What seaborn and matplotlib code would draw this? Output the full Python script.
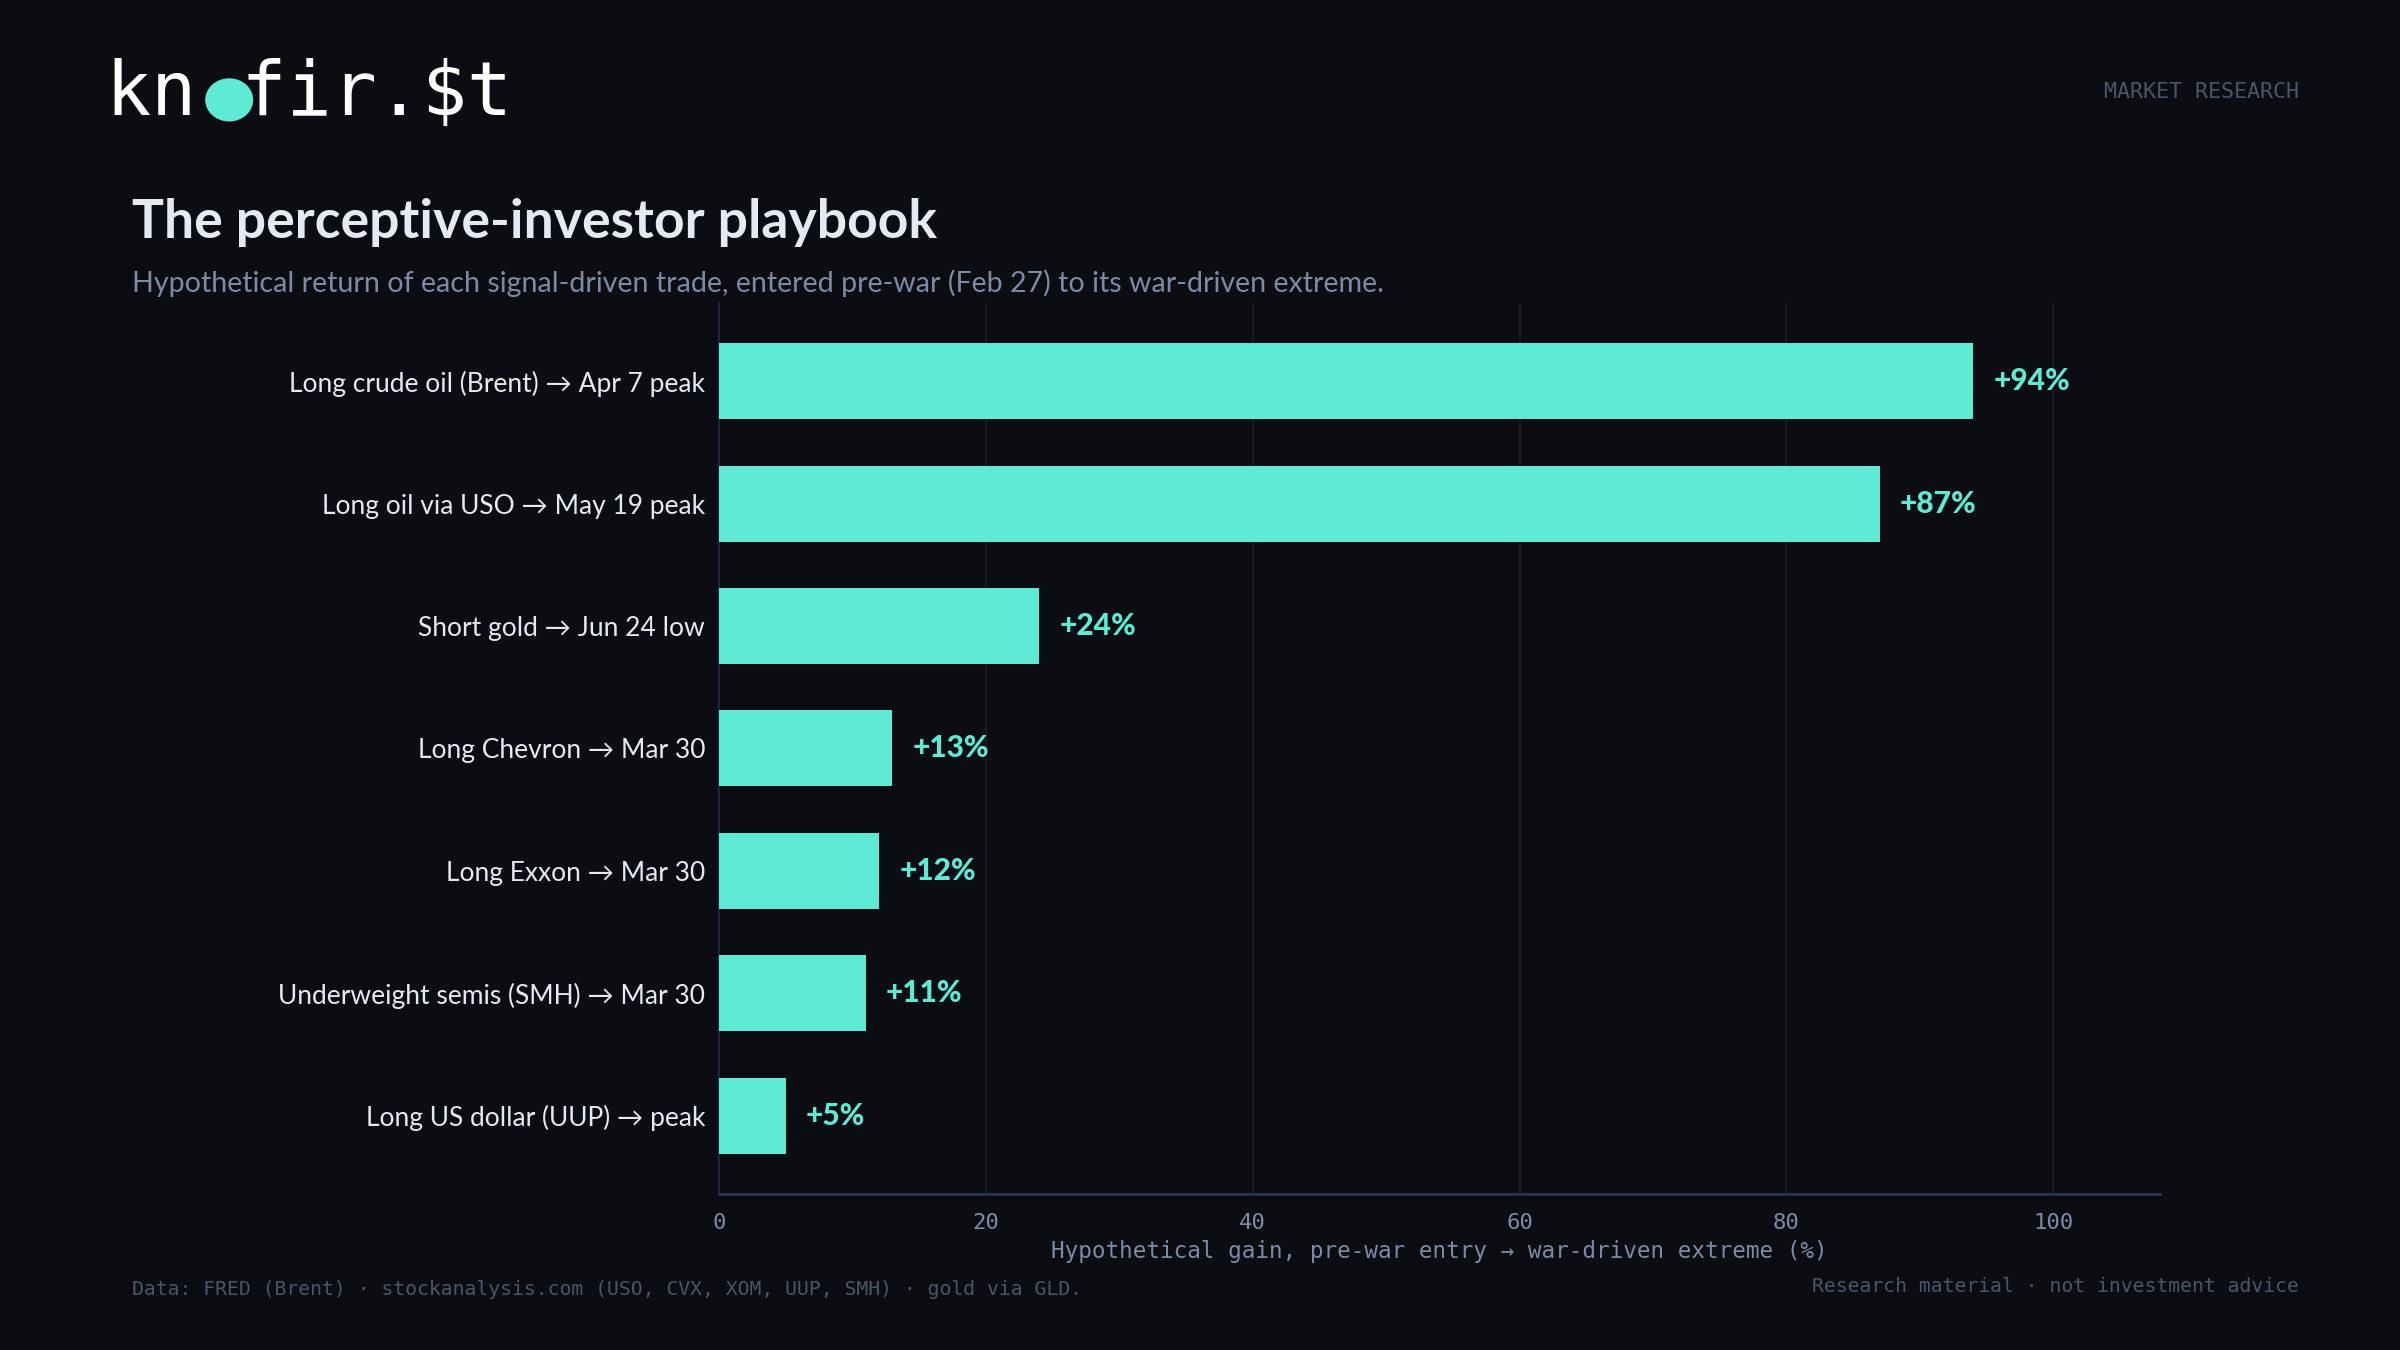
import numpy as np
import pandas as pd
import matplotlib.pyplot as plt
from matplotlib.patches import Ellipse
import seaborn as sns

# chart data
trades = [
    "Long crude oil (Brent) → Apr 7 peak",
    "Long oil via USO → May 19 peak",
    "Short gold → Jun 24 low",
    "Long Chevron → Mar 30",
    "Long Exxon → Mar 30",
    "Underweight semis (SMH) → Mar 30",
    "Long US dollar (UUP) → peak",
]
gains = [94, 87, 24, 13, 12, 11, 5]
x_ticks = [0, 20, 40, 60, 80, 100]

BG = "#0b0d12"
TEAL = "#5eead4"
TXT = "#e5e9f0"
MUTED = "#7d8aa5"
DIM = "#4a5568"
SANS = ["Lato", "DejaVu Sans"]
MONO = ["DejaVu Sans Mono"]

df = pd.DataFrame({"trade": trades, "gain": gains})

sns.set_style("dark")
plt.rcParams["font.family"] = SANS

fig = plt.figure(figsize=(24, 13.5), dpi=100, facecolor=BG)
ax = fig.add_axes([0.2996, 0.1156, 0.6004, 0.66])
ax.set_facecolor(BG)

sns.barplot(data=df, x="gain", y="trade", orient="h", color=TEAL,
            width=0.62, saturation=1, linewidth=0, edgecolor="none",
            ax=ax, zorder=3)

ax.set_xlim(0, 108)
ax.set_ylim(6.64, -0.64)
ax.set_xticks(x_ticks)
ax.set_xticklabels([str(t) for t in x_ticks], family=MONO, fontsize=16, color=MUTED)
ax.tick_params(axis="x", length=0, pad=14)
ax.tick_params(axis="y", length=0, pad=10, labelsize=19, labelcolor=TXT)
for lab in ax.get_yticklabels():
    lab.set_family(SANS)

ax.grid(axis="x", color="#161b26", linewidth=1.5, zorder=0)
ax.grid(axis="y", visible=False)
for s in ["top", "right"]:
    ax.spines[s].set_visible(False)
ax.spines["left"].set_color("#1e2433")
ax.spines["left"].set_linewidth(1.5)
ax.spines["bottom"].set_color("#2a3550")
ax.spines["bottom"].set_linewidth(2)

ax.set_ylabel("")
ax.set_xlabel("Hypothetical gain, pre-war entry → war-driven extreme (%)",
              family=MONO, fontsize=16.3, color=MUTED, labelpad=5)

for i, v in enumerate(gains):
    ax.text(v + 1.5, i, f"+{v}%", va="center", ha="left", color=TEAL,
            fontsize=21.5, fontweight="black", family=SANS)

# header
fig.text(0.055, 0.835, "The perceptive-investor playbook", fontsize=38.5,
         fontweight="bold", color=TXT, family=SANS, va="center")
fig.text(0.055, 0.790,
         "Hypothetical return of each signal-driven trade, entered pre-war (Feb 27) to its war-driven extreme.",
         fontsize=20.6, color=MUTED, family=SANS, va="center")

# logo
fig.text(0.044, 0.930, "kn  fir.$t".replace("  ", " "), fontsize=54, color="white",
         family=MONO, va="center")
fig.patches.append(Ellipse((0.0955, 0.926), 0.020, 0.032, transform=fig.transFigure,
                           facecolor=TEAL, edgecolor="none", figure=fig))

fig.text(0.958, 0.932, "MARKET RESEARCH", fontsize=15.6, color=DIM, family=MONO,
         ha="right", va="center")

# footer
fig.text(0.055, 0.045,
         "Data: FRED (Brent) · stockanalysis.com (USO, CVX, XOM, UUP, SMH) · gold via GLD.",
         fontsize=14.2, color=DIM, family=MONO, va="center")
fig.text(0.958, 0.047, "Research material · not investment advice", fontsize=14.2,
         color=DIM, family=MONO, ha="right", va="center")

fig.savefig("out.png", dpi=100, facecolor=BG)
